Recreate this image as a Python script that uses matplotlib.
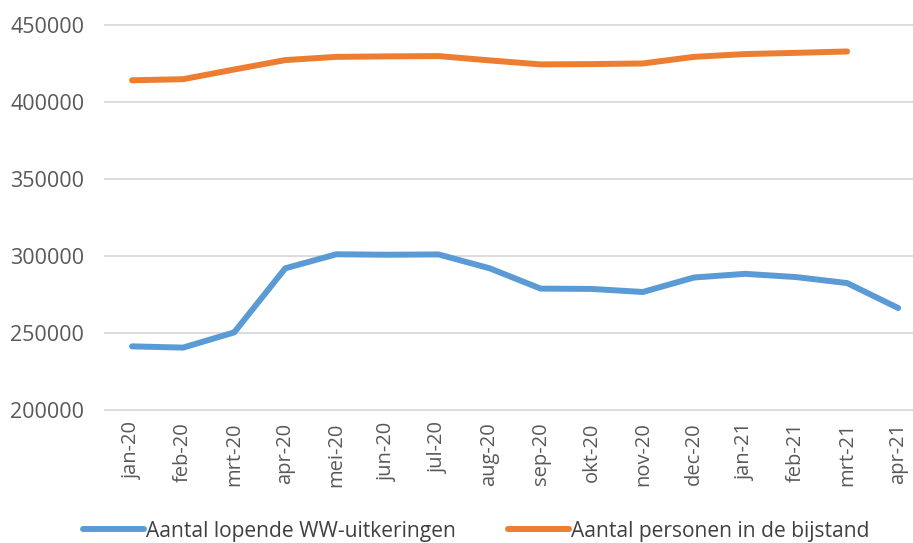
import matplotlib
matplotlib.use("Agg")
import matplotlib.pyplot as plt

plt.rcParams['font.family'] = ['Open Sans', 'DejaVu Sans']

months = ['jan-20', 'feb-20', 'mrt-20', 'apr-20', 'mei-20', 'jun-20', 'jul-20', 'aug-20',
          'sep-20', 'okt-20', 'nov-20', 'dec-20', 'jan-21', 'feb-21', 'mrt-21', 'apr-21']
ww = [241300, 240500, 250400, 292000, 301100, 300800, 301000, 292000,
      278800, 278600, 276600, 286000, 288400, 286300, 282400, 266200]
bijstand = [414100, 414800, 421100, 427200, 429300, 429600, 429800, 427000,
            424400, 424600, 425000, 429300, 431100, 431900, 432800]

blue = '#5B9BD5'
orange = '#ED7D31'
grey = '#595959'

fig = plt.figure(figsize=(9.13, 5.43), dpi=100)
ax = fig.add_axes([0.115, 0.245, 0.885, 0.709])

x = list(range(len(months)))
ax.plot(x, ww, color=blue, lw=4.3, solid_capstyle='round', label='Aantal lopende WW-uitkeringen')
ax.plot(x[:len(bijstand)], bijstand, color=orange, lw=4.3, solid_capstyle='round',
        label='Aantal personen in de bijstand')

ax.set_ylim(200000, 450000)
ax.set_yticks(range(200000, 450001, 50000))
ax.set_xlim(-0.53, 15.29)
ax.set_xticks(x)
ax.set_xticklabels(months, rotation=90)

ax.grid(axis='y', color='#D9D9D9', lw=1.3)
ax.set_axisbelow(True)
for s in ax.spines.values():
    s.set_visible(False)
ax.tick_params(axis='y', length=0, pad=15, labelsize=15.5, labelcolor=grey)
ax.tick_params(axis='x', length=0, pad=9, labelsize=14.5, labelcolor=grey)
for gl in ax.get_ygridlines():
    gl.set_clip_on(False)

fig.legend(loc='center', bbox_to_anchor=(0.522, 0.022), ncol=2, frameon=False,
           fontsize=15.1, handlelength=2.9, handletextpad=0.1, columnspacing=2.5,
           labelcolor='#404040')

fig.savefig('out.png', dpi=100)
